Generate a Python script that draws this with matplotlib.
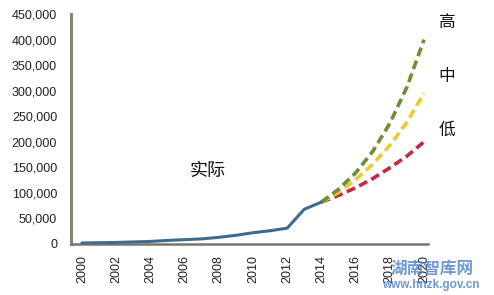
import matplotlib
matplotlib.use("Agg")
import matplotlib.pyplot as plt

years_actual = list(range(2000, 2015))
actual = [2000, 2500, 3000, 4000, 5000, 7000, 8500, 10000, 13000, 17000, 22000, 26000, 31000, 68000, 82000]
years_proj = list(range(2014, 2021))
high = [82000, 107000, 139000, 181000, 236000, 307000, 400000]
mid = [82000, 101000, 126000, 156000, 193000, 238000, 295000]
low = [82000, 95000, 110000, 128000, 149000, 172000, 200000]
xticks = list(range(2000, 2021, 2))
yticks = list(range(0, 450001, 50000))

plt.rcParams['font.family'] = ['Liberation Sans', 'Noto Sans CJK SC', 'DejaVu Sans']

fig = plt.figure(figsize=(4.94, 2.95), dpi=100)
ax = fig.add_axes([0.1437, 0.1729, 0.7226, 0.7796])

ax.plot(years_actual, actual, color='#3f6b8f', lw=2.2, solid_capstyle='round', zorder=3)
ax.plot(years_proj, low, color='#c8283c', lw=2.6, dashes=(2.5, 1.3), zorder=2)
ax.plot(years_proj, mid, color='#f0c832', lw=2.6, dashes=(2.5, 1.3), zorder=2)
ax.plot(years_proj, high, color='#6f8f35', lw=2.6, dashes=(2.5, 1.3), zorder=2)

ax.set_xlim(1999.36, 2020.23)
ax.set_ylim(0, 450000)
ax.set_xticks(xticks)
ax.set_xticklabels([str(y) for y in xticks], rotation=90, fontsize=9, color='#222222')
ax.set_yticks(yticks)
ax.set_yticklabels([f"{v:,}" for v in yticks], fontsize=9, color='#222222')
ax.tick_params(axis='y', length=0, pad=10)
ax.tick_params(axis='x', length=0, pad=8)

for s in ['top', 'right']:
    ax.spines[s].set_visible(False)
ax.spines['left'].set_color('#8a8470')
ax.spines['left'].set_linewidth(2.2)
ax.spines['bottom'].set_color('#77746c')
ax.spines['bottom'].set_linewidth(1.8)

cjk = ['Noto Sans CJK SC', 'DejaVu Sans']
fig.text(208 / 494, 1 - 171 / 295, '实际', fontsize=13, family=cjk, ha='center', va='center', color='#111111')
fig.text(447 / 494, 1 - 23 / 295, '高', fontsize=12, family=cjk, ha='center', va='center', color='#111111')
fig.text(447 / 494, 1 - 77 / 295, '中', fontsize=12, family=cjk, ha='center', va='center', color='#111111')
fig.text(447 / 494, 1 - 130 / 295, '低', fontsize=12, family=cjk, ha='center', va='center', color='#111111')

fig.text(432 / 494, 1 - 269 / 295, '湖南智库网', fontsize=12, family=cjk, ha='center', va='center',
         color='#4f7fc8', alpha=0.8, fontweight='bold')
fig.text(431 / 494, 1 - 285 / 295, 'www.hnzk.gov.cn', fontsize=8.5, ha='center', va='center',
         color='#4f7fc8', alpha=0.8, fontweight='bold')

fig.savefig('out.png', dpi=100, facecolor='white')
